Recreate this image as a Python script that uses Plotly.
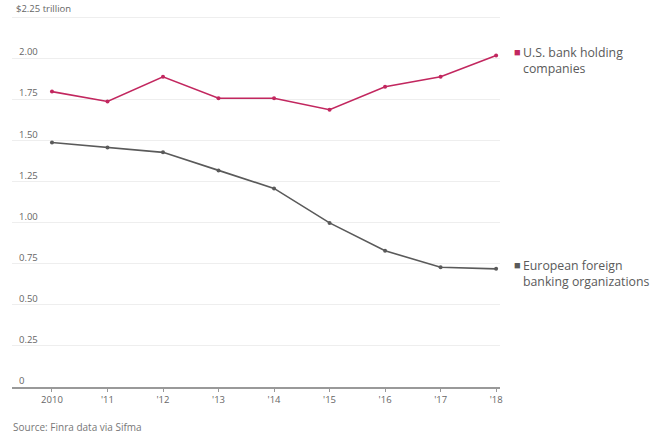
import plotly.graph_objects as go

years = [2010, 2011, 2012, 2013, 2014, 2015, 2016, 2017, 2018]
x_labels = ["2010", "'11", "'12", "'13", "'14", "'15", "'16", "'17", "'18"]
us_banks = [1.80, 1.74, 1.89, 1.76, 1.76, 1.69, 1.83, 1.89, 2.02]
eu_banks = [1.49, 1.46, 1.43, 1.32, 1.21, 1.00, 0.83, 0.73, 0.72]
y_ticks = [0, 0.25, 0.5, 0.75, 1.0, 1.25, 1.5, 1.75, 2.0, 2.25]
y_labels = ["0", "0.25", "0.50", "0.75", "1.00", "1.25", "1.50", "1.75", "2.00", ""]
y_top_label = "$2.25 trillion"
series_names = ["U.S. bank holding<br>companies", "European foreign<br>banking organizations"]

PINK = "#c2275f"
GREY = "#5a5a5a"
FONT = "Open Sans"

fig = go.Figure()
for vals, col in [(us_banks, PINK), (eu_banks, GREY)]:
    fig.add_trace(go.Scatter(
        x=years, y=vals, mode="lines+markers",
        line=dict(color=col, width=1.6),
        marker=dict(color=col, size=4),
        showlegend=False, hoverinfo="skip"))

for vals, col, name in [(us_banks, PINK, series_names[0]), (eu_banks, GREY, series_names[1])]:
    fig.add_annotation(x=1.0, xref="paper", xshift=12, y=vals[-1], yref="y", yshift=14,
                       text="■", showarrow=False, xanchor="left", yanchor="top",
                       font=dict(family=FONT, size=11, color=col))
    fig.add_annotation(x=1.0, xref="paper", xshift=21, y=vals[-1], yref="y", yshift=14,
                       text=name, showarrow=False, xanchor="left", yanchor="top", align="left",
                       font=dict(family=FONT, size=12.3, color="#5a5a5a"))

fig.add_annotation(x=0, xref="paper", xshift=2, y=y_ticks[-1], yref="y", yshift=1,
                   text=y_top_label, showarrow=False, xanchor="left", yanchor="bottom",
                   font=dict(family=FONT, size=9.5, color="#666666"))

fig.add_annotation(x=0, xref="paper", xshift=-1, y=0, yref="paper", yshift=-31,
                   text="Source: Finra data via Sifma", showarrow=False,
                   xanchor="left", yanchor="top",
                   font=dict(family=FONT, size=10, color="#777777"))

fig.update_layout(
    width=668, height=438,
    margin=dict(l=12, r=168, t=3, b=51),
    paper_bgcolor="white", plot_bgcolor="white",
    font=dict(family=FONT),
    xaxis=dict(range=[2009.28, 2018.07], tickvals=years, ticktext=x_labels,
               showgrid=False, zeroline=False, showline=True, linecolor="#999999", linewidth=1.5,
               ticks="outside", ticklen=3, tickcolor="#999999",
               tickfont=dict(family=FONT, size=9.5, color="#666666")),
    yaxis=dict(range=[0, 2.34], tickvals=y_ticks, ticktext=y_labels,
               showgrid=True, gridcolor="#eeeeee", gridwidth=1, zeroline=False,
               ticklabelposition="inside top", ticks="", ticklabelstandoff=4,
               tickfont=dict(family=FONT, size=9.5, color="#666666")),
)

fig.write_html("out.html")
